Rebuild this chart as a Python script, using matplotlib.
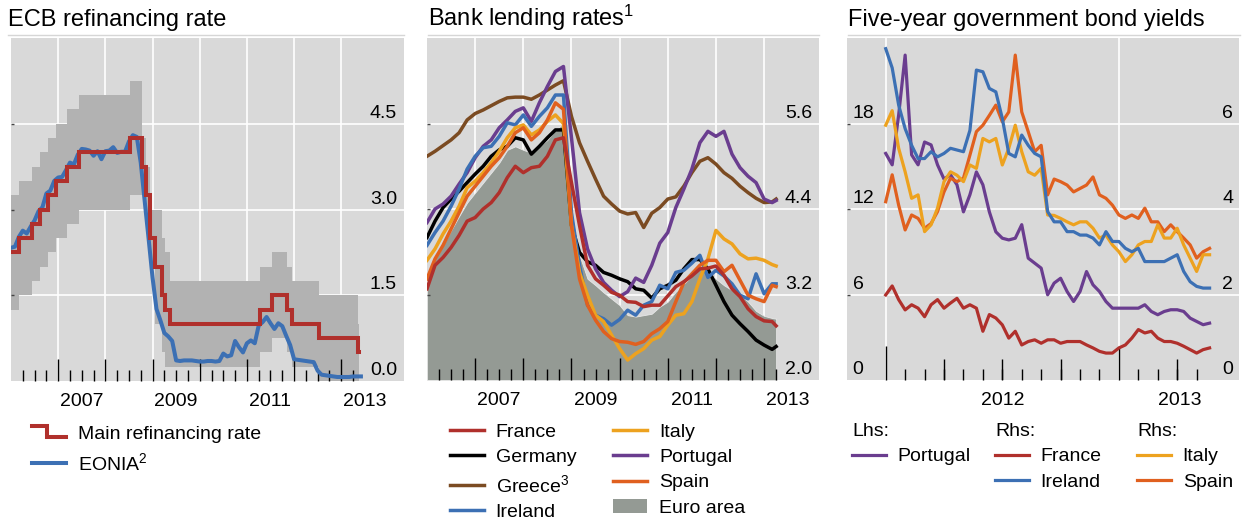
import numpy as np
import matplotlib
matplotlib.use('Agg')
import matplotlib.pyplot as plt
from matplotlib.lines import Line2D
from matplotlib.patches import Patch
from matplotlib.legend_handler import HandlerBase
from matplotlib.transforms import offset_copy

plt.rcParams['font.family'] = ['Liberation Sans', 'DejaVu Sans']
plt.rcParams['mathtext.fontset'] = 'custom'
plt.rcParams['mathtext.rm'] = 'Liberation Sans'
plt.rcParams['mathtext.it'] = 'Liberation Sans:italic'
plt.rcParams['mathtext.default'] = 'regular'

W, H = 1242, 520
FS = 14        # tick / legend text
TFS = 17       # panel titles
BG = '#d9d9d9'
BAND = '#b2b2b2'
RED = '#b0302c'
BLUE = '#3c70b4'
BROWN = '#7b4b22'
YELLOW = '#eda21f'
PURPLE = '#6a3d8f'
ORANGE = '#e0601f'
EURO = '#949a94'

# ---------------- panel 1: ECB policy rates (decimal years) ----------------
policy_dates = [2006.0, 2006.18, 2006.45, 2006.61, 2006.78, 2006.95, 2007.19, 2007.45,
                2008.52, 2008.78, 2008.87, 2008.94, 2009.06, 2009.19, 2009.27, 2009.36,
                2011.28, 2011.53, 2011.86, 2011.95, 2012.53, 2013.35, 2013.38]
mro = [2.25, 2.5, 2.75, 3.0, 3.25, 3.5, 3.75, 4.0,
       4.25, 3.75, 3.25, 2.5, 2.0, 1.5, 1.25, 1.0,
       1.25, 1.5, 1.25, 1.0, 0.75, 0.5, 0.5]
deposit = [1.25, 1.5, 1.75, 2.0, 2.25, 2.5, 2.75, 3.0,
           3.25, 3.25, 2.75, 2.0, 1.0, 0.5, 0.25, 0.25,
           0.5, 0.75, 0.5, 0.25, 0.0, 0.0, 0.0]
lending = [3.25, 3.5, 3.75, 4.0, 4.25, 4.5, 4.75, 5.0,
           5.25, 4.25, 3.75, 3.0, 3.0, 2.5, 2.25, 1.75,
           2.0, 2.25, 2.0, 1.75, 1.5, 1.0, 1.0]
# EONIA, monthly from Jan 2006
eonia = [2.33, 2.35, 2.52, 2.63, 2.58, 2.70, 2.81, 2.97, 3.04, 3.28, 3.33, 3.50,
         3.56, 3.57, 3.69, 3.82, 3.79, 3.96, 4.06, 4.05, 4.03, 3.94, 4.02, 3.88,
         4.02, 4.03, 4.09, 3.99, 4.01, 4.01, 4.19, 4.30, 4.27, 3.82, 3.15, 2.49,
         1.81, 1.26, 1.06, 0.84, 0.78, 0.70, 0.36, 0.35, 0.36, 0.36, 0.36, 0.35,
         0.34, 0.34, 0.35, 0.35, 0.34, 0.35, 0.48, 0.43, 0.45, 0.70, 0.59, 0.50,
         0.66, 0.71, 0.66, 0.97, 1.03, 1.12, 1.01, 0.91, 1.01, 0.96, 0.79, 0.63,
         0.38, 0.37, 0.36, 0.35, 0.34, 0.33, 0.18, 0.11, 0.10, 0.09, 0.08, 0.07,
         0.07, 0.07, 0.07, 0.08, 0.08, 0.08]
eonia_t = 2006 + np.arange(len(eonia)) / 12

# ---------------- panel 2: bank lending rates, every 2nd month from Jan 2006 ----
lend_months = list(range(0, 87, 2)) + [87]
lend_t = 2006 + np.array(lend_months) / 12
france_l = [3.28, 3.61, 3.72, 3.86, 4.03, 4.23, 4.28, 4.40, 4.49, 4.63, 4.84, 5.00,
            4.91, 4.98, 5.00, 5.14, 5.37, 5.40, 4.77, 4.17, 3.61, 3.42, 3.33, 3.23,
            3.19, 3.10, 3.09, 3.03, 3.05, 3.05, 3.18, 3.31, 3.38, 3.46, 3.56, 3.57,
            3.60, 3.47, 3.28, 3.17, 3.00, 2.89, 2.83, 2.82, 2.76]
germany_l = [4.00, 4.23, 4.42, 4.54, 4.65, 4.77, 4.89, 5.00, 5.14, 5.23, 5.28, 5.40,
             5.37, 5.17, 5.28, 5.40, 5.51, 5.51, 4.17, 3.79, 3.66, 3.61, 3.51, 3.47,
             3.42, 3.38, 3.28, 3.26, 3.15, 3.28, 3.33, 3.40, 3.56, 3.69, 3.69, 3.56,
             3.33, 3.10, 2.91, 2.79, 2.68, 2.56, 2.49, 2.43, 2.47]
greece_l = [5.14, 5.21, 5.29, 5.37, 5.47, 5.65, 5.74, 5.79, 5.85, 5.91, 5.96, 5.97,
            5.97, 5.94, 6.00, 6.07, 6.14, 6.20, 5.70, 5.33, 5.07, 4.82, 4.58, 4.47,
            4.37, 4.33, 4.35, 4.14, 4.34, 4.42, 4.54, 4.57, 4.72, 4.91, 5.07, 5.12,
            5.03, 4.91, 4.83, 4.72, 4.63, 4.55, 4.49, 4.50, 4.54]
ireland_l = [3.89, 4.07, 4.23, 4.44, 4.68, 4.96, 5.14, 5.26, 5.28, 5.42, 5.61, 5.58,
             5.72, 5.56, 5.70, 5.82, 6.00, 6.00, 4.35, 3.61, 3.05, 2.91, 2.86, 2.77,
             2.85, 2.98, 2.91, 3.05, 3.10, 3.33, 3.28, 3.51, 3.54, 3.64, 3.75, 3.44,
             3.54, 3.46, 3.35, 3.19, 3.14, 3.49, 3.21, 3.35, 3.35]
italy_l = [3.68, 3.84, 4.05, 4.23, 4.44, 4.70, 4.79, 4.91, 5.05, 5.21, 5.40, 5.54,
           5.58, 5.44, 5.51, 5.63, 5.72, 5.60, 4.17, 3.51, 3.19, 2.91, 2.82, 2.63,
           2.44, 2.28, 2.37, 2.44, 2.56, 2.61, 2.77, 2.91, 2.93, 3.10, 3.42, 3.70,
           4.10, 3.98, 3.91, 3.77, 3.70, 3.71, 3.68, 3.62, 3.60]
portugal_l = [4.21, 4.40, 4.47, 4.58, 4.75, 4.91, 5.12, 5.28, 5.37, 5.54, 5.65, 5.77,
              5.82, 5.63, 5.89, 6.12, 6.33, 6.40, 5.40, 4.35, 3.84, 3.56, 3.37, 3.26,
              3.17, 3.24, 3.43, 3.37, 3.61, 3.92, 4.07, 4.42, 4.68, 4.96, 5.33, 5.49,
              5.42, 5.49, 5.17, 4.98, 4.86, 4.77, 4.54, 4.49, 4.52]
spain_l = [3.42, 3.70, 3.89, 4.12, 4.35, 4.58, 4.72, 4.86, 5.00, 5.12, 5.28, 5.47,
           5.54, 5.37, 5.47, 5.65, 5.89, 5.80, 4.17, 3.42, 3.05, 2.84, 2.68, 2.58,
           2.54, 2.53, 2.50, 2.54, 2.65, 2.72, 2.82, 3.10, 3.37, 3.49, 3.61, 3.68,
           3.68, 3.52, 3.61, 3.40, 3.19, 3.14, 3.10, 3.33, 3.31]
euro_l = [3.51, 3.70, 3.89, 4.10, 4.30, 4.49, 4.63, 4.77, 4.91, 5.05, 5.23, 5.28,
          5.23, 5.19, 5.28, 5.37, 5.51, 5.60, 4.44, 3.75, 3.42, 3.33, 3.23, 3.14,
          3.05, 2.91, 2.89, 2.91, 2.93, 3.03, 3.10, 3.24, 3.35, 3.46, 3.56, 3.51,
          3.42, 3.33, 3.26, 3.20, 3.10, 2.97, 2.90, 2.87, 2.86]

# ---------------- panel 3: five-year bond yields, ~10-day steps from Jan 2012 ----
bond_t = 2012 + np.arange(51) / 36
portugal_b = [15.9, 15.1, 18.6, 22.8, 15.8, 15.1, 16.7, 16.5, 15.1, 14.1,
              14.4, 13.7, 11.8, 13.0, 14.6, 13.7, 11.8, 10.4, 9.95, 9.83,
              9.95, 10.9, 8.55, 8.2, 7.85, 5.98, 6.8, 7.14, 6.21, 5.51,
              6.21, 7.61, 6.68, 6.21, 5.51, 5.04, 5.04, 5.04, 5.04, 5.04,
              5.28, 4.81, 4.58, 4.81, 4.93, 4.93, 4.81, 4.34, 4.11, 3.88, 3.99]
france_b = [1.99, 2.2, 1.88, 1.64, 1.76, 1.68, 1.48, 1.76, 1.88, 1.68,
            1.8, 1.91, 1.68, 1.76, 1.68, 1.14, 1.53, 1.45, 1.29, 0.98,
            1.14, 0.82, 0.9, 0.94, 0.86, 0.94, 0.94, 0.86, 0.9, 0.9,
            0.9, 0.82, 0.75, 0.67, 0.63, 0.63, 0.75, 0.82, 0.98, 1.18,
            1.1, 1.14, 0.98, 0.9, 0.9, 0.86, 0.79, 0.71, 0.63, 0.71, 0.75]
ireland_b = [7.75, 7.3, 6.43, 5.88, 5.49, 5.18, 5.18, 5.34, 5.22, 5.3,
             5.42, 5.38, 5.34, 5.84, 7.25, 7.21, 6.82, 6.74, 6.12, 5.3,
             5.22, 5.73, 5.49, 5.3, 5.22, 3.94, 3.7, 3.7, 3.47, 3.47,
             3.39, 3.39, 3.32, 3.16, 3.47, 3.24, 3.24, 3.08, 3.0, 3.08,
             2.77, 2.77, 2.77, 2.77, 2.85, 2.93, 2.54, 2.3, 2.19, 2.15, 2.15]
italy_b = [5.96, 6.3, 5.42, 4.87, 4.25, 4.33, 3.47, 3.63, 4.02, 4.64,
           4.87, 4.79, 4.64, 5.03, 4.95, 5.65, 5.57, 5.65, 5.03, 5.42,
           5.96, 5.34, 4.87, 4.79, 4.95, 3.86, 3.85, 3.78, 3.7, 3.63,
           3.7, 3.7, 3.55, 3.32, 3.39, 3.16, 3.0, 2.77, 2.93, 3.16,
           3.24, 3.24, 3.63, 3.32, 3.32, 3.55, 3.16, 2.85, 2.54, 2.93, 2.93]
spain_b = [4.17, 4.8, 4.09, 3.51, 3.86, 3.78, 3.55, 3.66, 3.94, 4.4,
           4.72, 4.64, 4.72, 5.26, 5.81, 5.96, 6.19, 6.43, 6.04, 6.27,
           7.6, 6.27, 5.81, 5.34, 5.49, 4.33, 4.7, 4.64, 4.56, 4.4,
           4.48, 4.56, 4.75, 4.33, 4.25, 4.09, 3.86, 3.78, 3.86, 3.78,
           4.02, 3.7, 3.7, 3.47, 3.63, 3.47, 3.32, 3.16, 2.85, 3.0, 3.08]

titles = ['ECB refinancing rate', 'Bank lending rates$^1$', 'Five-year government bond yields']


class HandlerStep(HandlerBase):
    # legend key drawn as a small downward step
    def create_artists(self, legend, orig_handle, xdescent, ydescent,
                       width, height, fontsize, trans):
        x0, y0 = -xdescent, -ydescent
        xs = [x0, x0 + 0.45 * width, x0 + 0.45 * width, x0 + width]
        ys = [y0 + 0.95 * height, y0 + 0.95 * height, y0 + 0.1 * height, y0 + 0.1 * height]
        ln = Line2D(xs, ys, color=orig_handle.get_color(),
                    lw=orig_handle.get_linewidth(), solid_joinstyle='miter')
        ln.set_transform(trans)
        return [ln]


fig = plt.figure(figsize=(W / 100, H / 100), dpi=100)


def px_axes(l, t, r, b):
    return fig.add_axes([l / W, 1 - b / H, (r - l) / W, (b - t) / H])


def base_style(ax, xlim, ylim, ygrid, vgrid):
    ax.set_facecolor(BG)
    for s in ax.spines.values():
        s.set_visible(False)
    ax.set_xlim(*xlim)
    ax.set_ylim(*ylim)
    for v in ygrid:
        ax.axhline(v, color='white', lw=1.2, zorder=0.5)
    for v in vgrid:
        ax.axvline(v, color='white', lw=1.2, zorder=0.5)
    ax.set_yticks(ygrid)
    ax.tick_params(axis='y', direction='in', length=2.5, width=1, color='#444444',
                   labelleft=False, right=False)
    ax.tick_params(axis='x', which='both', direction='in', width=1, color='black',
                   labelbottom=False, top=False)


def ylabels(ax, values, labels, x, ha):
    tr = offset_copy(ax.get_yaxis_transform(), fig=fig, y=4.3, units='points')
    for v, lab in zip(values, labels):
        ax.text(x, v, lab, transform=tr, ha=ha, va='baseline', fontsize=FS)


def year_labels(ax, positions, labels):
    tr = offset_copy(ax.get_xaxis_transform(), fig=fig, y=-18, units='points')
    for p, lab in zip(positions, labels):
        ax.text(p, 0, lab, transform=tr, ha='center', va='baseline', fontsize=FS)


years_a = list(range(2007, 2014))
quarters_a = [y + q / 4 for y in range(2006, 2014) for q in (1, 2, 3) if y + q / 4 <= 2013.3]

# ---- panel 1
ax1 = px_axes(11, 38, 404, 381)
base_style(ax1, (2006.0, 2014.33), (0, 6), [1.5, 3.0, 4.5], years_a)
ax1.set_xticks(years_a)
ax1.set_xticks(quarters_a, minor=True)
ax1.tick_params(axis='x', which='major', length=15.8)
ax1.tick_params(axis='x', which='minor', length=8)
ax1.fill_between(policy_dates, deposit, lending, step='post', color=BAND, lw=0, zorder=1)
mro_line, = ax1.plot(policy_dates, mro, drawstyle='steps-post', color=RED, lw=2.9,
                     solid_joinstyle='miter', zorder=3)
eonia_line, = ax1.plot(eonia_t, eonia, color=BLUE, lw=2.9, zorder=2.8)
ylabels(ax1, [0, 1.5, 3.0, 4.5], ['0.0', '1.5', '3.0', '4.5'], 0.982, 'right')
year_labels(ax1, [2007.5, 2009.5, 2011.5, 2013.5], ['2007', '2009', '2011', '2013'])
fig.legend([mro_line, eonia_line], ['Main refinancing rate', 'EONIA$^2$'],
           loc='upper left', bbox_to_anchor=(32 / W, 1 - 425 / H), frameon=False,
           borderpad=0, borderaxespad=0, handlelength=1.75, handletextpad=0.6,
           labelspacing=0.5, fontsize=FS, handler_map={mro_line: HandlerStep()})

# ---- panel 2
ax2 = px_axes(427, 38, 819, 380)
base_style(ax2, (2006.0, 2014.14), (2.0, 6.8), [3.2, 4.4, 5.6], years_a)
ax2.set_xticks(years_a)
ax2.set_xticks(quarters_a, minor=True)
ax2.tick_params(axis='x', which='major', length=15.8)
ax2.tick_params(axis='x', which='minor', length=8)
ax2.fill_between(lend_t, 2.0, euro_l, color=EURO, edgecolor='#e8e8e8', lw=0.6, zorder=1)
series2 = [('Greece$^3$', greece_l, BROWN), ('Germany', germany_l, 'black'),
           ('Portugal', portugal_l, PURPLE), ('Ireland', ireland_l, BLUE),
           ('Italy', italy_l, YELLOW), ('Spain', spain_l, ORANGE), ('France', france_l, RED)]
h2 = {}
for name, vals, col in series2:
    h2[name], = ax2.plot(lend_t, vals, color=col, lw=2.5, zorder=3)
ylabels(ax2, [2.0, 3.2, 4.4, 5.6], ['2.0', '3.2', '4.4', '5.6'], 0.982, 'right')
year_labels(ax2, [2007.5, 2009.5, 2011.5, 2013.5], ['2007', '2009', '2011', '2013'])
order2 = ['France', 'Germany', 'Greece$^3$', 'Ireland', 'Italy', 'Portugal', 'Spain']
handles2 = [h2[n] for n in order2] + [Patch(facecolor=EURO, edgecolor='none')]
fig.legend(handles2, order2 + ['Euro area'], ncol=2, loc='upper left',
           bbox_to_anchor=(450 / W, 1 - 423 / H), frameon=False, borderpad=0,
           borderaxespad=0, handlelength=1.75, handletextpad=0.6, labelspacing=0.4,
           columnspacing=1.9, fontsize=FS)

# ---- panel 3
ax3 = px_axes(847, 38, 1239, 380)
base_style(ax3, (2011.834, 2013.515), (0, 24), [6, 12, 18], [2012, 2013])
months_c = [2012 + i / 12 for i in range(17)]
ax3.set_xticks([2012, 2013])
ax3.set_xticks(months_c, minor=True)
ax3.tick_params(axis='x', which='major', length=24.5)
ax3.tick_params(axis='x', which='minor', length=8)
ax3.vlines([2012.25, 2012.5, 2012.75, 2013.25], 0, 21 / 342,
           transform=ax3.get_xaxis_transform(), color='black', lw=1, zorder=2.5)
pt_line, = ax3.plot(bond_t, portugal_b, color=PURPLE, lw=2.3, zorder=3)
ax3r = ax3.twinx()
ax3r.set_ylim(0, 8)
for s in ax3r.spines.values():
    s.set_visible(False)
ax3r.tick_params(axis='y', right=False, labelright=False)
fr_line, = ax3r.plot(bond_t, france_b, color=RED, lw=2.3)
es_line, = ax3r.plot(bond_t, spain_b, color=ORANGE, lw=2.3)
it_line, = ax3r.plot(bond_t, italy_b, color=YELLOW, lw=2.3)
ie_line, = ax3r.plot(bond_t, ireland_b, color=BLUE, lw=2.3)
ylabels(ax3, [0, 6, 12, 18], ['0', '6', '12', '18'], 0.0145, 'left')
ylabels(ax3r, [0, 2, 4, 6], ['0', '2', '4', '6'], 0.985, 'right')
year_labels(ax3, [2012.5, 2013.26], ['2012', '2013'])

leg_kw = dict(loc='upper left', frameon=False, borderpad=0, borderaxespad=0,
              handlelength=1.75, handletextpad=0.6, labelspacing=0.4, fontsize=FS,
              title_fontsize=FS, alignment='left')
fig.legend([pt_line], ['Portugal'], title='Lhs:', bbox_to_anchor=(852 / W, 1 - 423 / H), **leg_kw)
fig.legend([fr_line, ie_line], ['France', 'Ireland'], title='Rhs:',
           bbox_to_anchor=(995 / W, 1 - 423 / H), **leg_kw)
fig.legend([it_line, es_line], ['Italy', 'Spain'], title='Rhs:',
           bbox_to_anchor=(1137 / W, 1 - 423 / H), **leg_kw)

# titles and thin rules under them
for (x0, x1), title in zip([(8, 404), (428, 819), (848, 1240)], titles):
    fig.text(x0 / W, 1 - 26 / H, title, fontsize=TFS, va='baseline', ha='left')
    fig.add_artist(Line2D([x0 / W, x1 / W], [1 - 34.5 / H] * 2, transform=fig.transFigure,
                          color='#d6d6d6', lw=1))

fig.savefig('out.png', dpi=100, facecolor='white')
